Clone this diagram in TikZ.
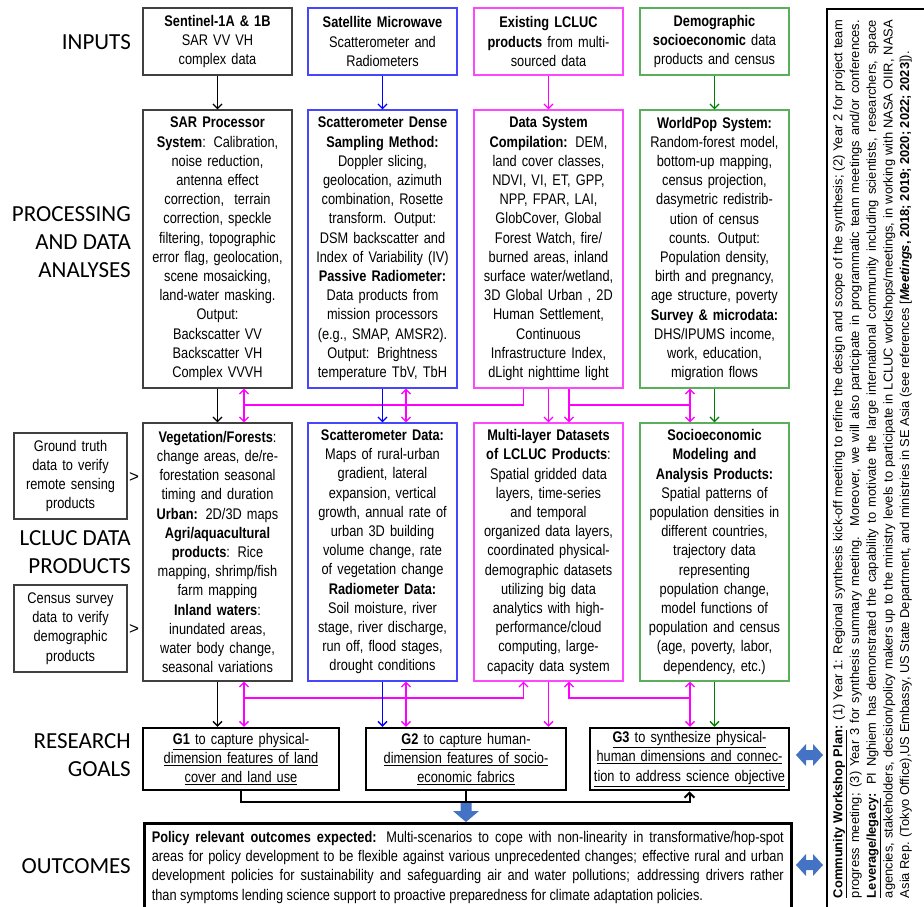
\documentclass[tikz,border=0pt]{standalone}
\usepackage{fontspec}
\setmainfont{Liberation Sans}
\newfontfamily\nfont{Liberation Sans}[FakeStretch=0.83]
\newfontfamily\afont{Liberation Sans}
\newfontfamily\cfont{Carlito}
\usetikzlibrary{arrows.meta}
\definecolor{bgray}{RGB}{64,64,64}
\definecolor{bblue}{RGB}{70,70,255}
\definecolor{bmag}{RGB}{255,70,255}
\definecolor{bgreen}{RGB}{90,175,90}
\definecolor{amag}{RGB}{255,0,255}
\definecolor{ablue}{RGB}{0,0,255}
\definecolor{agreen}{RGB}{0,128,0}
\definecolor{blk}{RGB}{68,114,196}
\newcommand\jline[2]{\makebox[#1][s]{\spaceskip=0pt\xspaceskip=0pt\relax #2}}
\newcommand\nline[2]{\makebox[#1][l]{\spaceskip=0pt\xspaceskip=0pt\relax #2}}
\tikzset{
  bx/.style={draw=#1, line width=1.2pt, text width=145pt, inner xsep=2pt, inner ysep=0pt, align=center, font=\nfont\fontsize{15.4}{19.2}\selectfont},
  gbx/.style={draw=black, line width=2.5pt, minimum height=62pt, inner xsep=2pt, inner ysep=0pt, align=center, font=\nfont\fontsize{15.4}{19.2}\selectfont},
  lab/.style={font=\cfont\fontsize{23}{28}\selectfont, align=right, anchor=east, inner sep=0pt},
  tip/.tip={Straight Barb[length=4.5pt,width=9pt]},
  arr/.style={line width=1.3pt, -tip},
  darr/.style={line width=1.3pt, tip-tip},
  ln/.style={line width=1.3pt},
  gln/.style={line width=2pt},
  garr/.style={line width=2pt, -{Straight Barb[length=5pt,width=10pt]}},
}
\begin{document}
\begin{tikzpicture}[x=1pt,y=-1pt]
\useasboundingbox (0,0) rectangle (924,906);

% left labels
\node[lab] (lin) at (131,42) {INPUTS};
\node[lab] (lpr) at (131,242) {PROCESSING\\AND DATA\\ANALYSES};
\node[lab] (lpd) at (131,552) {LCLUC DATA\\PRODUCTS};
\node[lab] (lrg) at (131,755) {RESEARCH\\GOALS};
\node[lab] (lout) at (131,866) {OUTCOMES};

% inputs
\node[bx=bgray, minimum height=67pt] (i1) at (217.5,41.5) {\textbf{Sentinel-1A \& 1B}\\SAR VV VH\\complex data};
\node[bx=bblue, minimum height=67pt] (i2) at (382.5,41.5) {\textbf{Satellite Microwave}\\Scatterometer and\\Radiometers};
\node[bx=bmag, minimum height=67pt] (i3) at (548.5,41.5) {\textbf{Existing LCLUC}\\\textbf{products} from multi-\\sourced data};
\node[bx=bgreen, minimum height=67pt] (i4) at (714.5,41.5) {\textbf{Demographic}\\\textbf{socioeconomic} data\\products and census};

% processing
\node[bx=bgray, minimum height=278pt] (p1) at (217.5,249) {\textbf{SAR Processor}\\\textbf{System}: Calibration,\\noise reduction,\\antenna effect\\correction,\ \ terrain\\correction, speckle\\filtering, topographic\\error flag, geolocation,\\scene mosaicking,\\land-water masking.\\Output:\\Backscatter VV\\Backscatter VH\\Complex VVVH};
\node[bx=bblue, minimum height=278pt] (p2) at (382.5,249) {\textbf{Scatterometer Dense}\\\textbf{Sampling Method:}\\Doppler slicing,\\geolocation, azimuth\\combination, Rosette\\transform. Output:\\DSM backscatter and\\Index of Variability (IV)\\\textbf{Passive Radiometer:}\\Data products from\\mission processors\\(e.g., SMAP, AMSR2).\\Output: Brightness\\temperature TbV, TbH};
\node[bx=bmag, minimum height=278pt] (p3) at (548.5,249) {\textbf{Data System}\\\textbf{Compilation:} DEM,\\land cover classes,\\NDVI, VI, ET, GPP,\\NPP, FPAR, LAI,\\GlobCover, Global\\Forest Watch, fire/\\burned areas, inland\\surface water/wetland,\\3D Global Urban , 2D\\Human Settlement,\\Continuous\\Infrastructure Index,\\dLight nighttime light};
\node[bx=bgreen, minimum height=278pt] (p4) at (714.5,249) {\textbf{WorldPop System:}\\Random-forest model,\\bottom-up mapping,\\census projection,\\dasymetric redistrib-\\ution of census\\counts. Output:\\Population density,\\birth and pregnancy,\\age structure, poverty\\\textbf{Survey \& microdata:}\\DHS/IPUMS income,\\work, education,\\migration flows};

% products
\node[bx=bgray, minimum height=258pt] (d1) at (217.5,552) {\textbf{Vegetation/Forests}:\\change areas, de/re-\\forestation seasonal\\timing and duration\\\textbf{Urban:} 2D/3D maps\\\textbf{Agri/aquacultural}\\\textbf{products}: Rice\\mapping, shrimp/fish\\farm mapping\\\textbf{Inland waters}:\\inundated areas,\\water body change,\\seasonal variations};
\node[bx=bblue, minimum height=258pt] (d2) at (382.5,552) {\textbf{Scatterometer Data:}\\Maps of rural-urban\\gradient, lateral\\expansion, vertical\\growth, annual rate of\\urban 3D building\\volume change, rate\\of vegetation change\\\textbf{Radiometer Data:}\\Soil moisture, river\\stage, river discharge,\\run off, flood stages,\\drought conditions};
\node[bx=bmag, minimum height=258pt] (d3) at (548.5,552) {\textbf{Multi-layer Datasets}\\\textbf{of LCLUC Products}:\\Spatial gridded data\\layers, time-series\\and temporal\\organized data layers,\\coordinated physical-\\demographic datasets\\utilizing big data\\analytics with high-\\performance/cloud\\computing, large-\\capacity data system};
\node[bx=bgreen, minimum height=258pt] (d4) at (714.5,552) {\textbf{Socioeconomic}\\\textbf{Modeling and}\\\textbf{Analysis Products:}\\Spatial patterns of\\population densities in\\different countries,\\trajectory data\\representing\\population change,\\model functions of\\population and census\\(age, poverty, labor,\\dependency, etc.)};

% verification boxes
\node[bx=bgray, text width=109pt, minimum height=86pt] (gt) at (70.5,476) {Ground truth\\data to verify\\remote sensing\\products};
\node[bx=bgray, text width=109pt, minimum height=87pt] (cs) at (70.5,628.5) {Census survey\\data to verify\\demographic\\products};
\node[font=\afont\fontsize{17}{17}\selectfont, inner sep=0pt] (gtg) at (134,478) {>};
\node[font=\afont\fontsize{17}{17}\selectfont, inner sep=0pt] (csg) at (134,630) {>};

% goals
\node[gbx, text width=192pt] (g1) at (241,759) {\underline{\textbf{G1} to capture physical-}\\\underline{dimension features of land}\\\underline{cover and land use}};
\node[gbx, text width=196pt] (g2) at (466,759) {\underline{\textbf{G2} to capture human-}\\\underline{dimension features of socio-}\\\underline{economic fabrics}};
\node[gbx, text width=195pt] (g3) at (689.5,759) {\underline{\textbf{G3} to synthesize physical-}\\\underline{human dimensions and connec-}\\\underline{tion to address science objective}};

% outcomes
\node[draw=black, line width=2.5pt, minimum width=647pt, minimum height=88pt, inner sep=0pt, text width=647pt, align=left, anchor=north west, font=\nfont\fontsize{15.4}{19.2}\selectfont] (oc) at (143,822) {\hspace*{7.5pt}\jline{632pt}{\textbf{Policy relevant outcomes expected:} Multi-scenarios to cope with non-linearity in transformative/hop-spot}\\\hspace*{7.5pt}\jline{632pt}{areas for policy development to be flexible against various unprecedented changes; effective rural and urban}\\\hspace*{7.5pt}\jline{632pt}{development policies for sustainability and safeguarding air and water pollutions; addressing drivers rather}\\\hspace*{7.5pt}\nline{632pt}{than symptoms lending science support to proactive preparedness for climate adaptation policies.}};

% right panel
\draw[line width=1.5pt] (827,9) rectangle (940,920);
\node[rotate=90, inner sep=0pt, text width=878pt, align=left, font=\afont\fontsize{12.9}{16.7}\selectfont] (rp) at (872.5,459) {\jline{878pt}{\textbf{\underline{Community Workshop Plan}:} (1) Year 1: Regional synthesis kick-off meeting to refine the design and scope of the synthesis; (2) Year 2 for project team}\\\jline{878pt}{progress meeting; (3) Year 3 for synthesis summary meeting.\ \ Moreover, we will also participate in programmatic team meetings and/or conferences.}\\\jline{878pt}{\textbf{\underline{Leverage/legacy}:} PI Nghiem has demonstrated the capability to motivate the large international community including scientists, researchers, space}\\\jline{878pt}{agencies, stakeholders, decision/policy makers up to the ministry levels to participate in LCLUC workshops/meetings, in working with NASA OIIR, NASA}\\\nline{878pt}{Asia Rep. (Tokyo Office),US Embassy, US State Department, and ministries in SE Asia (see references [\textbf{\textit{Meetings}, 2018; 2019; 2020; 2022; 2023}]).}};

% coordinates for connector columns
\coordinate (xA) at (244,0);
\coordinate (xB) at (406,0);
\coordinate (xC) at (523.5,0);
\coordinate (xD) at (569,0);
\coordinate (xE) at (690,0);
\coordinate (hU) at (0,405);
\coordinate (hL) at (0,698);
\coordinate (hG) at (0,802);

% inputs -> processing
\draw[arr, black] (i1.south) -- (p1.north);
\draw[arr, ablue] (i2.south) -- (p2.north);
\draw[arr, amag] (i3.south) -- (p3.north);
\draw[arr, agreen] (i4.south) -- (p4.north);

% processing -> products
\draw[arr, black] (p1.south) -- (d1.north);
\draw[ln, amag] (p3.south -| xC) |- (hU -| xA);
\draw[darr, amag] (p1.south -| xA) -- (d1.north -| xA);
\draw[arr, ablue] (p2.south) -- (d2.north);
\draw[darr, amag] (p2.south -| xB) -- (d2.north -| xB);
\draw[arr, amag] (p3.south) -- (d3.north);
\draw[arr, amag] (p3.south -| xD) -- (d3.north -| xD);
\draw[ln, amag] (hU -| xD) -- (hU -| xE);
\draw[darr, amag] (p4.south -| xE) -- (d4.north -| xE);
\draw[arr, agreen] (p4.south) -- (d4.north);

% products -> goals
\draw[arr, black] (d1.south) -- (d1.south |- g1.north);
\draw[arr, amag] (hL -| xA) -| (d3.south -| xC);
\draw[darr, amag] (d1.south -| xA) -- (g1.north -| xA);
\draw[arr, ablue] (d2.south) -- (d2.south |- g2.north);
\draw[darr, amag] (d2.south -| xB) -- (g2.north -| xB);
\draw[arr, amag] (d3.south) -- (d3.south |- g2.north);
\draw[arr, amag] (hL -| xE) -| (d3.south -| xD);
\draw[darr, amag] (d4.south -| xE) -- (g3.north -| xE);
\draw[arr, agreen] (d4.south) -- (d4.south |- g3.north);

% goals -> outcomes
\draw[garr] (g1.south) |- (hG -| g3.south) -- (g3.south);
\draw[gln] (g2.south) -- (g2.south |- hG);
\begin{scope}[shift={(g2.south |- hG)}]
\fill[blk] (-5.5,1) -- (5.5,1) -- (5.5,9) -- (13,9) -- (0,20) -- (-13,9) -- (-5.5,9) -- cycle;
\end{scope}

% blue double arrows toward the right panel
\fill[blk] (796,755) -- (806,744) -- (806,750) -- (813,750) -- (813,744) -- (823,755) -- (813,766) -- (813,760) -- (806,760) -- (806,766) -- cycle;
\fill[blk] (796,865) -- (806,854) -- (806,860) -- (813,860) -- (813,854) -- (823,865) -- (813,876) -- (813,870) -- (806,870) -- (806,876) -- cycle;
\end{tikzpicture}
\end{document}
